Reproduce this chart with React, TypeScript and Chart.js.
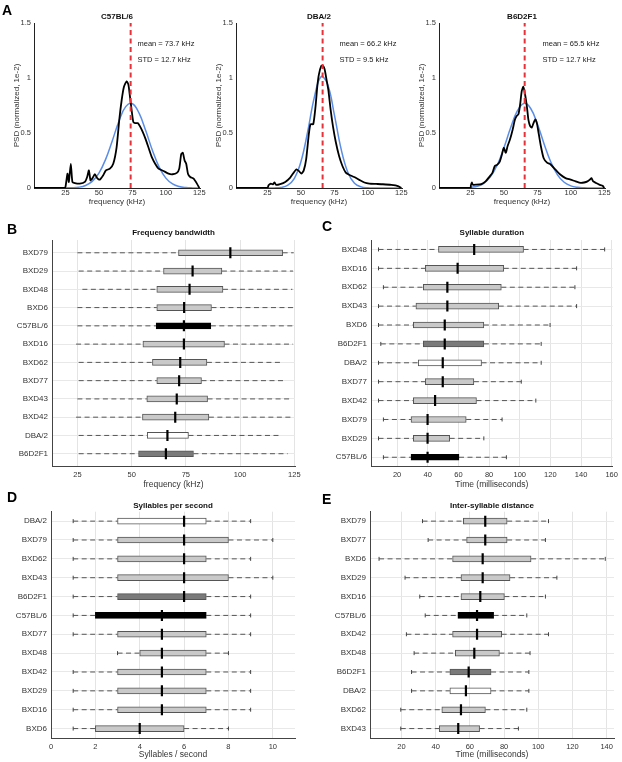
import React, { useEffect, useRef } from "react";
import { Chart, registerables } from "chart.js";

Chart.register(...registerables);

const FONT = "'Liberation Sans', Arial, Helvetica, sans-serif";
Chart.defaults.font.family = FONT;

// ---------------- Panel A: PSD curves ----------------
const psdXTicks = [25, 50, 75, 100, 125];
const psdYTicks = [0, 0.5, 1, 1.5];
const fitFreq = [25, 30, 35, 40, 45, 50, 55, 60, 65, 70, 75, 80, 85, 90, 95, 100, 105, 110, 115, 120, 125];

const c57Freq = [1.5, 24, 25, 26.5, 27.5, 29, 30.2, 32, 35.7, 39.5, 41.2, 42.5, 43.7, 45, 47, 48.7, 50.7, 53.2, 55.2, 58.2, 60.7, 63.2, 65.2, 67, 68.7, 70.7, 72, 73.2, 74.7, 75.7, 77, 79, 80.7, 82.7, 85, 87.5, 89.5, 92, 94.5, 98.2, 102, 105, 108.2, 110, 111.5, 112.7, 114, 115.2, 116.5, 118.2, 120.7, 123.2, 125];
const c57Psd = [0, 0, 0.01, 0.13, 0.055, 0.22, 0.055, 0.045, 0.04, 0.055, 0.1, 0.16, 0.07, 0.085, 0.125, 0.09, 0.076, 0.115, 0.16, 0.176, 0.22, 0.37, 0.62, 0.8, 0.92, 0.97, 0.94, 0.83, 0.68, 0.6, 0.59, 0.59, 0.56, 0.51, 0.44, 0.35, 0.28, 0.22, 0.176, 0.155, 0.13, 0.125, 0.137, 0.176, 0.31, 0.32, 0.25, 0.22, 0.13, 0.1, 0.085, 0.04, 0];
const c57Fit = [0.001, 0.002, 0.007, 0.023, 0.06, 0.135, 0.26, 0.43, 0.61, 0.74, 0.766, 0.68, 0.52, 0.34, 0.19, 0.09, 0.037, 0.013, 0.004, 0.001, 0];

const dbaFreq = [1.5, 25, 25.8, 27.5, 29, 30.3, 31.5, 34.5, 38.3, 42, 44.6, 46.6, 48.4, 50.4, 52.1, 53.9, 55.9, 57.2, 59.2, 60.9, 62.2, 63.4, 65.2, 66.5, 67.7, 69.2, 70.5, 72.2, 74, 76, 78.5, 81, 83.5, 86, 89.8, 93.6, 97.4, 101.1, 106.2, 111.2, 117.5, 122.5, 125];
const dbaPsd = [0, 0, 0.025, 0.04, 0.033, 0.05, 0.028, 0.035, 0.055, 0.095, 0.14, 0.17, 0.156, 0.13, 0.16, 0.26, 0.49, 0.58, 0.58, 0.74, 0.92, 1.03, 1.11, 1.11, 1.08, 0.98, 0.89, 0.71, 0.555, 0.42, 0.29, 0.2, 0.14, 0.12, 0.1, 0.074, 0.05, 0.04, 0.037, 0.034, 0.028, 0.018, 0];
const dbaFit = [0, 0.001, 0.005, 0.023, 0.085, 0.238, 0.509, 0.824, 1.012, 0.942, 0.664, 0.355, 0.144, 0.044, 0.01, 0.002, 0, 0, 0, 0, 0];

const b6Freq = [1.5, 25, 25.3, 26, 26.8, 29.3, 33.1, 36.3, 39.4, 41.4, 43.1, 44.9, 46.9, 48.4, 49.9, 51.4, 52.7, 54.5, 56.5, 58.2, 59.5, 60.8, 62, 63.3, 64.5, 65.8, 67.1, 68.3, 69.6, 70.8, 72.1, 73.4, 74.6, 75.9, 77.6, 79.7, 82.2, 84.2, 86, 88.5, 92.3, 96, 99.8, 103.6, 107.4, 109.9, 112.4, 114.2, 115.4, 116.7, 118.7, 121.2, 123.7, 125];
const b6Psd = [0, 0, 0.024, 0.05, 0.03, 0.03, 0.036, 0.06, 0.106, 0.137, 0.198, 0.21, 0.24, 0.3, 0.365, 0.32, 0.38, 0.44, 0.53, 0.62, 0.654, 0.67, 0.75, 0.88, 0.92, 0.85, 0.745, 0.62, 0.563, 0.55, 0.59, 0.624, 0.59, 0.5, 0.38, 0.27, 0.23, 0.22, 0.2, 0.167, 0.12, 0.09, 0.076, 0.06, 0.046, 0.05, 0.06, 0.076, 0.09, 0.06, 0.046, 0.03, 0.02, 0];
const b6Fit = [0.005, 0.0155, 0.043, 0.103, 0.209, 0.366, 0.547, 0.701, 0.769, 0.723, 0.582, 0.401, 0.237, 0.12, 0.052, 0.019, 0.006, 0.002, 0, 0, 0];

const psdStrains = ["C57BL/6", "DBA/2", "B6D2F1"];
const psdMeans = [73.7, 66.2, 65.5];
const psdStds = [12.7, 9.5, 12.7];

// ---------------- Panel B: Frequency bandwidth ----------------
const bwCats = ["BXD79", "BXD29", "BXD48", "BXD6", "C57BL/6", "BXD16", "BXD62", "BXD77", "BXD43", "BXD42", "DBA/2", "B6D2F1"];
const bwMin = [25, 25.6, 27.3, 25, 25, 24.4, 25.6, 25.6, 25, 24.4, 25.6, 25.6];
const bwQ1 = [71.6, 64.7, 61.6, 61.6, 61.3, 55.2, 59.6, 61.6, 57, 55, 57.2, 53.2];
const bwMed = [95.5, 78.1, 76.7, 74.2, 74.1, 74.1, 72.4, 71.9, 70.8, 70.1, 66.5, 65.8];
const bwQ3 = [119.6, 91.6, 92.1, 86.8, 86.5, 92.8, 84.7, 82.2, 85, 85.6, 76.2, 78.5];
const bwMax = [124.7, 124.4, 124.1, 124.4, 124.4, 124.4, 118.5, 120.4, 123.5, 124.4, 118.5, 121.9];
const bwTicks = [25, 50, 75, 100, 125];

// ---------------- Panel C: Syllable duration ----------------
const durCats = ["BXD48", "BXD16", "BXD62", "BXD43", "BXD6", "B6D2F1", "DBA/2", "BXD77", "BXD42", "BXD79", "BXD29", "C57BL/6"];
const durMin = [7.9, 7.9, 11.1, 7.9, 7.9, 9.4, 7.9, 7.9, 7.9, 11.1, 7.9, 11.1];
const durQ1 = [47, 38.4, 37.1, 32.3, 30.6, 37.1, 33.8, 38.4, 30.6, 29.1, 30.6, 29.1];
const durMed = [70.3, 59.5, 52.8, 52.8, 51.1, 51.1, 49.8, 49.8, 44.8, 39.9, 39.9, 39.9];
const durQ3 = [102.5, 89.6, 88, 86.3, 76.6, 76.6, 75.1, 70.1, 71.8, 65.1, 54.3, 60.4];
const durMax = [155.4, 137.1, 136, 137.1, 119.8, 114, 114, 101, 110.5, 88.5, 76.6, 91.3];
const durTicks = [20, 40, 60, 80, 100, 120, 140, 160];

// ---------------- Panel D: Syllables per second ----------------
const rateCats = ["DBA/2", "BXD79", "BXD62", "BXD43", "B6D2F1", "C57BL/6", "BXD77", "BXD48", "BXD42", "BXD29", "BXD16", "BXD6"];
const rateMin = [1, 1, 1, 1, 1, 1, 1, 3, 1, 1, 1, 1];
const rateQ1 = [3, 3, 3, 3, 3, 2, 3, 4, 3, 3, 3, 2];
const rateMed = [6, 6, 6, 6, 6, 5, 5, 5, 5, 5, 5, 4];
const rateQ3 = [7, 8, 7, 8, 7, 7, 7, 7, 7, 7, 7, 6];
const rateMax = [9, 10, 9, 10, 9, 9, 9, 8, 9, 9, 9, 8];
const rateTicks = [0, 2, 4, 6, 8, 10];

// ---------------- Panel E: Inter-syllable distance ----------------
const gapCats = ["BXD79", "BXD77", "BXD6", "BXD29", "BXD16", "C57BL/6", "BXD42", "BXD48", "B6D2F1", "DBA/2", "BXD62", "BXD43"];
const gapMin = [32.3, 35.6, 6.9, 22.1, 30.7, 33.9, 22.9, 27.4, 25.9, 25.9, 19.6, 19.6];
const gapQ1 = [56.2, 58.1, 49.9, 54.8, 54.8, 53, 49.9, 51.5, 48.3, 48.3, 43.6, 42.1];
const gapMed = [69, 69, 67.5, 67.5, 66.1, 64.2, 64.2, 62.6, 59.3, 57.7, 54.8, 53.2];
const gapQ3 = [81.8, 81.8, 95.8, 83.5, 80.2, 73.9, 78.6, 77.3, 72.4, 72.4, 69.1, 65.7];
const gapMax = [106, 104.2, 139.2, 110.9, 104.2, 93.3, 106, 95.2, 94.5, 94.5, 93.3, 88.4];
const gapTicks = [20, 40, 60, 80, 100, 120, 140];

// ---------------- styling helpers ----------------
const TEXT = "#333";
function boxFill(name: string) {
  if (name === "C57BL/6") return "#000000";
  if (name === "DBA/2") return "#ffffff";
  if (name === "B6D2F1") return "#7a7a7a";
  return "#c9c9c9";
}
function boxEdge(name: string) {
  if (name === "C57BL/6") return "#000000";
  return "#555555";
}

type PsdSpec = { name: string; freq: number[]; psd: number[]; fit: number[]; mean: number; sd: number };

function psdConfig(s: PsdSpec): any {
  const annot = {
    id: "annot",
    afterDatasetsDraw(chart: any) {
      const { ctx, scales } = chart;
      ctx.save();
      ctx.font = `7.5px ${FONT}`;
      ctx.fillStyle = "#222";
      ctx.textAlign = "left";
      ctx.textBaseline = "middle";
      const x = scales.x.getPixelForValue(78.8);
      ctx.fillText(`mean = ${s.mean.toFixed(1)} kHz`, x, scales.y.getPixelForValue(1.309));
      ctx.fillText(`STD = ${s.sd.toFixed(1)} kHz`, x, scales.y.getPixelForValue(1.164));
      ctx.restore();
    },
  };
  return {
    type: "line",
    data: {
      datasets: [
        { data: [{ x: s.mean, y: 0 }, { x: s.mean, y: 1.5 }], borderColor: "#e8323a", borderWidth: 2, borderDash: [5, 3.5], pointRadius: 0, order: 0 },
        { data: s.freq.map((f, i) => ({ x: f, y: s.psd[i] })), borderColor: "#000", borderWidth: 1.8, pointRadius: 0, tension: 0.2, order: 1 },
        { data: fitFreq.map((f, i) => ({ x: f, y: s.fit[i] })), borderColor: "#5a8de6", borderWidth: 1.5, pointRadius: 0, tension: 0.4, order: 2 },
      ],
    },
    options: {
      responsive: false,
      animation: false,
      events: [],
      layout: { padding: { left: 0, right: 10, top: 0, bottom: 0 } },
      plugins: {
        legend: { display: false },
        tooltip: { enabled: false },
        title: { display: true, text: s.name, fullSize: false, color: "#111", font: { size: 8, weight: "bold" }, padding: { top: 12, bottom: 1.4 } },
      },
      scales: {
        x: {
          type: "linear", min: 1.5, max: 125.5,
          afterBuildTicks: (sc: any) => { sc.ticks = psdXTicks.map((v) => ({ value: v })); },
          afterFit: (sc: any) => { sc.height = 20; },
          grid: { display: false, drawTicks: false },
          border: { display: true, color: "#222", width: 1 },
          ticks: { color: TEXT, font: { size: 7.5 }, padding: 0, maxRotation: 0, autoSkip: false },
          title: { display: true, text: "frequency (kHz)", color: TEXT, font: { size: 8 }, padding: { top: 0, bottom: 1.5 } },
        },
        y: {
          type: "linear", min: 0, max: 1.5,
          afterBuildTicks: (sc: any) => { sc.ticks = psdYTicks.map((v) => ({ value: v })); },
          afterFit: (sc: any) => { sc.width = 34; },
          grid: { display: false, drawTicks: false },
          border: { display: true, color: "#222", width: 1 },
          ticks: { color: TEXT, font: { size: 7.5 }, padding: 3, callback: (v: any) => String(v) },
          title: { display: true, text: "PSD (normalized, 1e-2)", color: TEXT, font: { size: 8 }, padding: { top: 12, bottom: 0 } },
        },
      },
    },
    plugins: [annot],
  };
}

type BoxSpec = {
  title: string; cats: string[]; mins: number[]; q1s: number[]; meds: number[]; q3s: number[]; maxs: number[];
  xMin: number; xMax: number; xTicks: number[]; xTitle: string; yMin: number; yMax: number; caps: boolean;
  yW: number; padR: number; titleTop: number; titleBottom: number; xH: number; xTitleBottom: number;
};

function boxConfig(s: BoxSpec): any {
  const medians = s.meds.map((m, i) => ({ x: m, y: i }));
  const boxes = s.cats.map((_, i) => ({ x: [s.q1s[i], s.q3s[i]], y: i }));
  const whiskers: any[] = [];
  s.cats.forEach((_, i) => {
    whiskers.push(
      { x: s.mins[i], y: i }, { x: s.q1s[i], y: i }, { x: null, y: i },
      { x: s.q3s[i], y: i }, { x: s.maxs[i], y: i }, { x: null, y: i }
    );
  });
  const capPts: any[] = [];
  s.cats.forEach((_, i) => { capPts.push({ x: s.mins[i], y: i }, { x: s.maxs[i], y: i }); });

  const datasets: any[] = [
    { type: "line", indexAxis: "y", data: medians, showLine: false, pointStyle: "line", pointRotation: 90, pointRadius: 5.5, pointBorderWidth: 2.2, pointBorderColor: "#000", pointBackgroundColor: "#000", order: 0 },
    { type: "bar", indexAxis: "y", data: boxes, backgroundColor: s.cats.map(boxFill), borderColor: s.cats.map(boxEdge), borderWidth: 1, borderSkipped: false, barThickness: 6, order: 1 },
  ];
  if (s.caps) {
    datasets.push({ type: "line", indexAxis: "y", data: capPts, showLine: false, pointStyle: "line", pointRotation: 90, pointRadius: 2, pointBorderWidth: 1, pointBorderColor: "#444", order: 2 });
  }
  datasets.push({ type: "line", indexAxis: "y", data: whiskers, borderColor: "#555", borderWidth: 1, borderDash: [5, 3.5], pointRadius: 0, spanGaps: false, fill: false, order: 3 });

  return {
    type: "bar",
    data: { datasets },
    options: {
      indexAxis: "y",
      responsive: false,
      animation: false,
      events: [],
      layout: { padding: { left: 0, right: s.padR, top: 0, bottom: 0 } },
      plugins: {
        legend: { display: false },
        tooltip: { enabled: false },
        title: { display: true, text: s.title, fullSize: false, color: "#111", font: { size: 8, weight: "bold" }, padding: { top: s.titleTop, bottom: s.titleBottom } },
      },
      scales: {
        x: {
          type: "linear", min: s.xMin, max: s.xMax, offset: false,
          afterBuildTicks: (sc: any) => { sc.ticks = s.xTicks.map((v) => ({ value: v })); },
          afterFit: (sc: any) => { sc.height = s.xH; },
          grid: { color: "#e4e4e4", lineWidth: 1, drawTicks: false },
          border: { display: true, color: "#444", width: 1 },
          ticks: { color: TEXT, font: { size: 7.5 }, padding: 4, maxRotation: 0, autoSkip: false },
          title: { display: true, text: s.xTitle, color: TEXT, font: { size: 8.5 }, padding: { top: 0, bottom: s.xTitleBottom } },
        },
        y: {
          type: "linear", min: s.yMin, max: s.yMax, reverse: true, offset: false,
          afterBuildTicks: (sc: any) => { sc.ticks = s.cats.map((_, i) => ({ value: i })); },
          afterFit: (sc: any) => { sc.width = s.yW; },
          grid: { color: "#e8e8e8", lineWidth: 1, drawTicks: false, offset: false },
          border: { display: true, color: "#444", width: 1 },
          ticks: { color: TEXT, font: { size: 8 }, padding: 4, autoSkip: false, callback: (v: any) => s.cats[v] ?? "" },
        },
      },
    },
  };
}

function ChartCanvas(props: { left: number; top: number; width: number; height: number; make: () => any }) {
  const ref = useRef<HTMLCanvasElement>(null);
  useEffect(() => {
    const chart = new Chart(ref.current as HTMLCanvasElement, props.make());
    return () => chart.destroy();
  }, []);
  const { left, top, width, height } = props;
  return (
    <canvas
      ref={ref}
      width={width}
      height={height}
      style={{ position: "absolute", left, top, width, height }}
    />
  );
}

function Letter(props: { text: string; left: number; top: number }) {
  return (
    <div
      style={{
        position: "absolute", left: props.left, top: props.top, fontFamily: FONT,
        fontWeight: "bold", fontSize: 14, lineHeight: "14px", color: "#000",
      }}
    >
      {props.text}
    </div>
  );
}

export default function App() {
  const psdSpecs: PsdSpec[] = [
    { name: psdStrains[0], freq: c57Freq, psd: c57Psd, fit: c57Fit, mean: psdMeans[0], sd: psdStds[0] },
    { name: psdStrains[1], freq: dbaFreq, psd: dbaPsd, fit: dbaFit, mean: psdMeans[1], sd: psdStds[1] },
    { name: psdStrains[2], freq: b6Freq, psd: b6Psd, fit: b6Fit, mean: psdMeans[2], sd: psdStds[2] },
  ];
  const psdLefts = [0, 202, 405];

  const bSpec: BoxSpec = {
    title: "Frequency bandwidth", cats: bwCats, mins: bwMin, q1s: bwQ1, meds: bwMed, q3s: bwQ3, maxs: bwMax,
    xMin: 13.3, xMax: 125.3, xTicks: bwTicks, xTitle: "frequency (kHz)", yMin: -0.7, yMax: 11.7, caps: false,
    yW: 52, padR: 16, titleTop: 8.2, titleBottom: 2.2, xH: 28.5, xTitleBottom: 4.9,
  };
  const cSpec: BoxSpec = {
    title: "Syllable duration", cats: durCats, mins: durMin, q1s: durQ1, meds: durMed, q3s: durQ3, maxs: durMax,
    xMin: 3, xMax: 160.6, xTicks: durTicks, xTitle: "Time (milliseconds)", yMin: -0.5, yMax: 11.5, caps: true,
    yW: 60, padR: 8, titleTop: 8.2, titleBottom: 2.2, xH: 28.3, xTitleBottom: 4.9,
  };
  const dSpec: BoxSpec = {
    title: "Syllables per second", cats: rateCats, mins: rateMin, q1s: rateQ1, meds: rateMed, q3s: rateQ3, maxs: rateMax,
    xMin: 0, xMax: 11, xTicks: rateTicks, xTitle: "Syllables / second", yMin: -0.5, yMax: 11.5, caps: true,
    yW: 51, padR: 16, titleTop: 11.2, titleBottom: 0.9, xH: 24, xTitleBottom: 1.9,
  };
  const eSpec: BoxSpec = {
    title: "Inter-syllable distance", cats: gapCats, mins: gapMin, q1s: gapQ1, meds: gapMed, q3s: gapQ3, maxs: gapMax,
    xMin: 1.6, xMax: 144.3, xTicks: gapTicks, xTitle: "Time (milliseconds)", yMin: -0.5, yMax: 11.5, caps: true,
    yW: 59, padR: 8, titleTop: 11.2, titleBottom: 0.9, xH: 24, xTitleBottom: 1.9,
  };

  return (
    <div style={{ position: "absolute", left: 0, top: 0, width: 622, height: 762, background: "#fff" }}>
      {psdSpecs.map((s, i) => (
        <ChartCanvas key={s.name} left={psdLefts[i]} top={0} width={210} height={208} make={() => psdConfig(s)} />
      ))}
      <ChartCanvas left={0} top={220} width={311} height={275} make={() => boxConfig(bSpec)} />
      <ChartCanvas left={311} top={220} width={311} height={275} make={() => boxConfig(cSpec)} />
      <ChartCanvas left={0} top={490} width={311} height={272} make={() => boxConfig(dSpec)} />
      <ChartCanvas left={311} top={490} width={311} height={272} make={() => boxConfig(eSpec)} />
      <Letter text="A" left={2} top={3} />
      <Letter text="B" left={7} top={222} />
      <Letter text="C" left={322} top={219} />
      <Letter text="D" left={7} top={490} />
      <Letter text="E" left={322} top={492} />
    </div>
  );
}
